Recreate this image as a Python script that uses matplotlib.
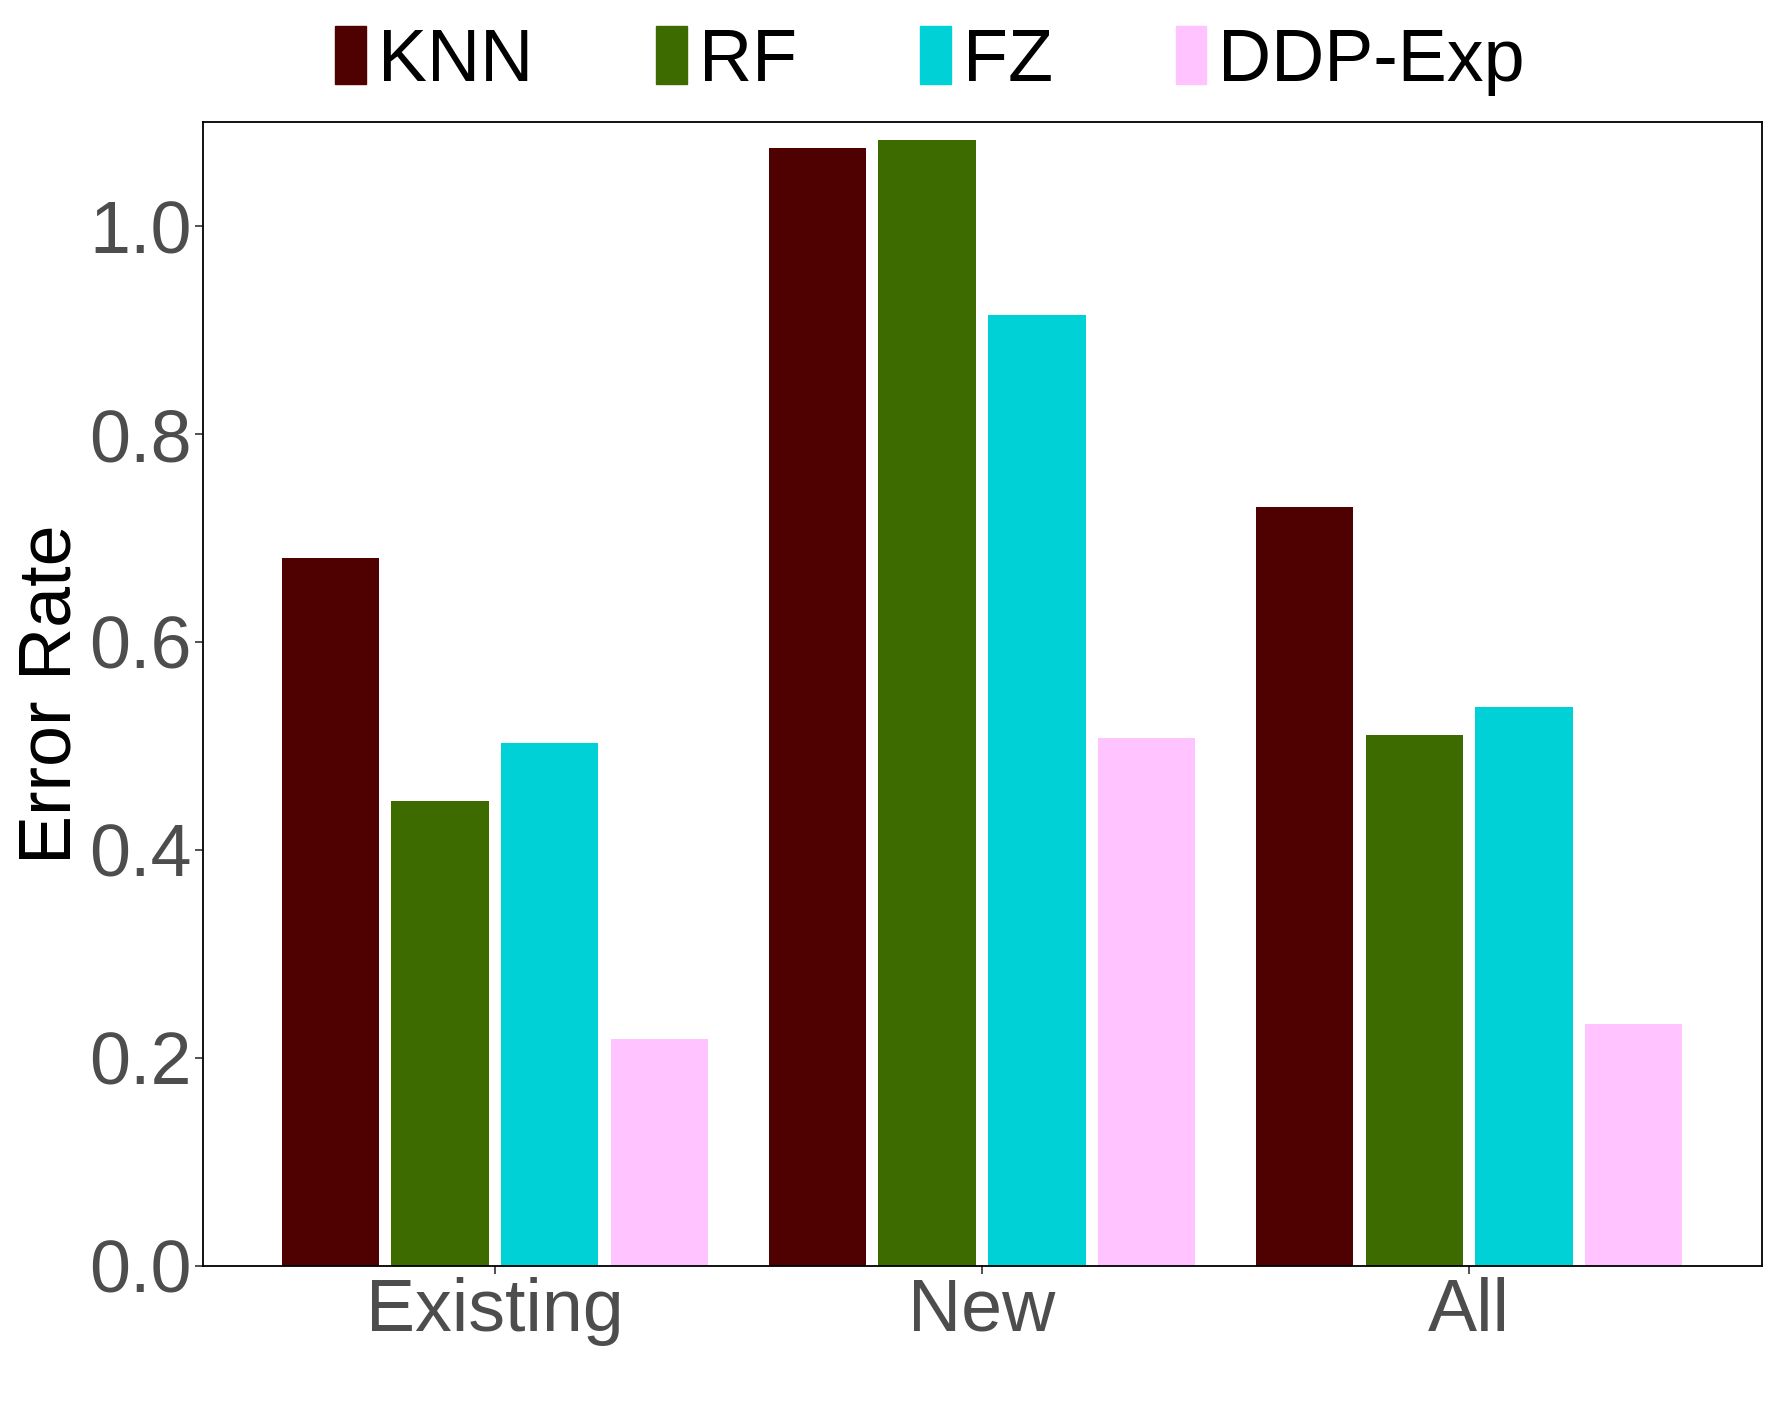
import numpy as np
import matplotlib
matplotlib.use("Agg")
import matplotlib.pyplot as plt
import matplotlib.patches as mpatches

plt.rcParams['font.family'] = ['Liberation Sans', 'DejaVu Sans']

# Data
categories = ["Existing", "New", "All"]
methods = ["KNN", "RF", "FZ", "DDP-Exp"]
knn = [0.681, 1.075, 0.730]
rf = [0.447, 1.083, 0.510]
fz = [0.503, 0.915, 0.537]
ddp = [0.218, 0.508, 0.232]
colors = ["#4F0000", "#3D6B00", "#00D1D6", "#FFC4FF"]

series = [knn, rf, fz, ddp]

fig = plt.figure(figsize=(17.75, 14.14), dpi=100)
ax = fig.add_axes([0.1141, 0.1050, 0.8783, 0.8085])

x = np.arange(len(categories))
slot = 0.225
width = 0.2
for i, (vals, col) in enumerate(zip(series, colors)):
    offs = (i - 1.5) * slot
    ax.bar(x + offs, vals, width=width, color=col, edgecolor="none", zorder=2)

ax.set_xlim(-0.6, 2.6)
ax.set_ylim(0, 1.1)
ax.set_xticks(x)
ax.set_xticklabels(categories)
ax.set_yticks([0.0, 0.2, 0.4, 0.6, 0.8, 1.0])
ax.set_yticklabels(["0.0", "0.2", "0.4", "0.6", "0.8", "1.0"])
ax.tick_params(axis="both", labelsize=53, labelcolor="#4D4D4D", length=6,
               width=1.2, color="#333333")
ax.tick_params(axis="y", pad=1.5)
ax.tick_params(axis="x", pad=2)
ax.set_ylabel("Error Rate", fontsize=53, color="black", labelpad=3)

for s in ax.spines.values():
    s.set_linewidth(1.3)
    s.set_color("black")

handles = [mpatches.Patch(color=c, label=m) for c, m in zip(colors, methods)]
fig.legend(handles=handles, loc="center", bbox_to_anchor=(0.524, 0.957), ncol=4,
           frameon=False, fontsize=53, handlelength=0.42, handleheight=0.84,
           handletextpad=0.16, columnspacing=1.67, borderaxespad=0, borderpad=0)

fig.savefig("out.png", dpi=100)
